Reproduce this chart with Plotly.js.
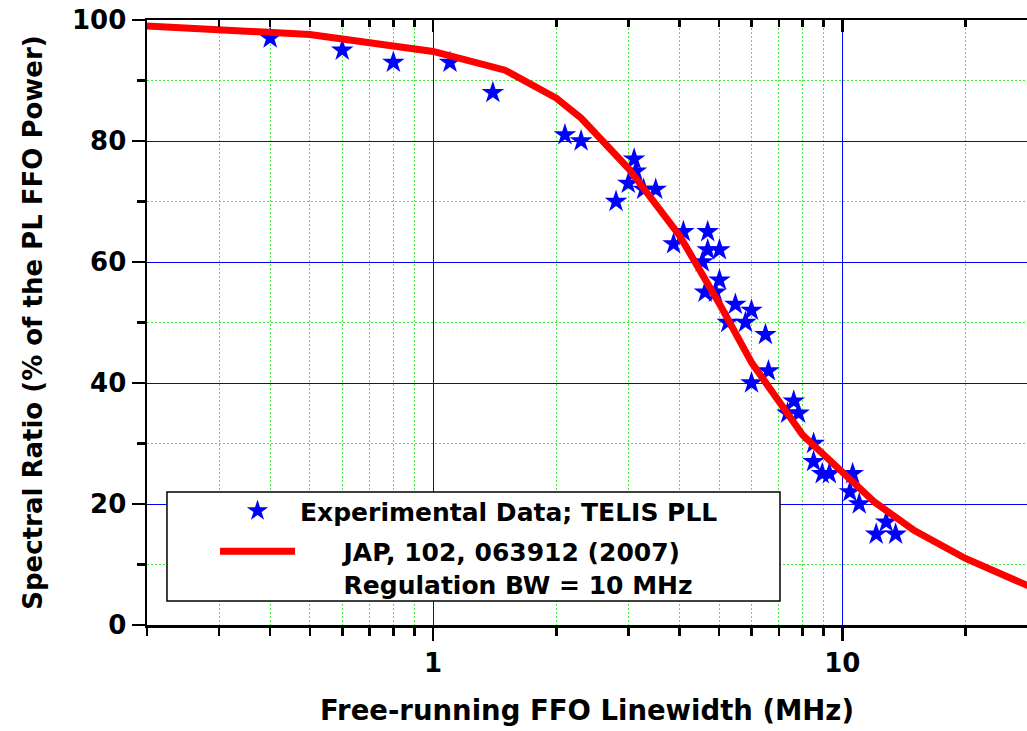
<!DOCTYPE html>
<html><head><meta charset="utf-8">
<script src="https://cdn.plot.ly/plotly-3.0.1.min.js"></script>
<style>html,body{margin:0;padding:0;background:#fff}#chart{width:1027px;height:731px}</style>
</head><body><div id="chart"></div>
<script>
// Experimental data: free-running FFO linewidth (MHz) vs spectral ratio (%)
const expX = [0.4, 0.6, 0.8, 1.1, 1.4, 2.1, 2.3, 2.8, 3.0, 3.1, 3.13, 3.27, 3.5,
  3.87, 4.09, 4.69, 4.69, 5.01, 4.55, 5.01, 4.62, 4.9, 5.48, 6.0, 5.25, 5.8, 6.49,
  6.6, 6.0, 7.61, 7.35, 7.82, 8.51, 8.51, 8.93, 9.3, 10.6, 10.44, 11.0, 12.8, 12.1, 13.5];
const expY = [97, 95, 93, 93, 88, 81, 80, 70, 73, 77, 75, 72, 72,
  63, 65, 65, 62, 62, 60, 57, 55, 55, 53, 52, 50, 50, 48,
  42, 40, 37, 35, 35, 30, 27, 25, 25, 25, 22, 20, 17, 15, 15];
// Model curve: JAP, 102, 063912 (2007), regulation BW = 10 MHz
const modelX = [0.2, 0.5, 1, 1.5, 2, 2.3, 3, 4, 5, 6, 8, 10, 12, 15, 20, 30];
const modelY = [99.0, 97.6, 94.8, 91.7, 87.1, 83.8, 75.5, 64.4, 53.2, 43.4, 31.4, 25.2, 20.3, 15.6, 11.0, 5.8];

const majorXTicks = [1, 10];
const majorXLabels = ['1', '10'];
const minorXTicks = [0.2, 0.3, 0.4, 0.5, 0.6, 0.7, 0.8, 0.9, 2, 3, 4, 5, 6, 7, 8, 9, 20];
const xRangeVals = [0.2, 28.27];

const NB = '\u00A0';
const expName = 'Experimental Data; TELIS PLL';
const modelName = NB.repeat(5) + 'JAP, 102, 063912 (2007)<br>' + NB.repeat(5) + 'Regulation BW = 10 MHz';

const FAM = 'DejaVu Sans, Liberation Sans, Arial, sans-serif';
const tickFont = {family: FAM, size: 26, color: '#000', weight: 'bold'};
const blueGrid = '#0000ff';
const greenGrid = '#40ee40';
const xr = [Math.log10(xRangeVals[0]), Math.log10(xRangeVals[1])];

const traces = [
  {x: expX, y: expY, type: 'scatter', mode: 'markers', name: expName, legendgroup: 'exp',
   marker: {symbol: 'star', size: 17, color: '#0000ff'}},
  {x: modelX, y: modelY, type: 'scatter', mode: 'lines', name: modelName, legendgroup: 'model',
   line: {color: '#ff0000', width: 7}},
  {x: [], y: [], xaxis: 'x2', yaxis: 'y', showlegend: false, hoverinfo: 'skip', type: 'scatter'}
];

const layout = {
  width: 1027, height: 731,
  margin: {l: 147, r: 0, t: 20, b: 106},
  paper_bgcolor: '#fff', plot_bgcolor: '#fff',
  font: {family: FAM, size: 25, color: '#000', weight: 'bold'},
  showlegend: true,
  xaxis: {
    type: 'log', range: xr,
    tickmode: 'array', tickvals: majorXTicks, ticktext: majorXLabels,
    ticks: 'outside', ticklen: 13, tickwidth: 2.5, tickcolor: '#000',
    showline: true, linewidth: 2.5, linecolor: '#000',
    showgrid: true, gridcolor: blueGrid, gridwidth: 1,
    zeroline: false, tickfont: tickFont,
    minor: {tickmode: 'array', tickvals: minorXTicks, ticks: 'outside', ticklen: 8,
            tickwidth: 2.5, tickcolor: '#000', showgrid: true, gridcolor: greenGrid,
            gridwidth: 1, griddash: '2px,2px'},
    title: {text: 'Free-running FFO Linewidth (MHz)', standoff: 24,
            font: {family: FAM, size: 27.5, color: '#000', weight: 'bold'}}
  },
  xaxis2: {
    type: 'log', range: xr, overlaying: 'x', side: 'top', anchor: 'y',
    tickmode: 'array', tickvals: majorXTicks, showticklabels: false,
    ticks: 'inside', ticklen: 12, tickwidth: 2.5, tickcolor: '#000',
    showline: true, linewidth: 2.5, linecolor: '#000',
    showgrid: false, zeroline: false,
    minor: {tickmode: 'array', tickvals: minorXTicks, ticks: 'inside', ticklen: 7,
            tickwidth: 2.5, tickcolor: '#000', showgrid: false}
  },
  yaxis: {
    range: [0, 100], tickmode: 'linear', tick0: 0, dtick: 20,
    ticks: 'outside', ticklen: 13, tickwidth: 2.5, tickcolor: '#000',
    showline: true, linewidth: 2.5, linecolor: '#000',
    showgrid: true, gridcolor: blueGrid, gridwidth: 1,
    zeroline: false, tickfont: tickFont,
    minor: {dtick: 10, ticks: 'outside', ticklen: 8, tickwidth: 2.5, tickcolor: '#000',
            showgrid: true, gridcolor: greenGrid, gridwidth: 1, griddash: '2px,2px'},
    title: {text: 'Spectral Ratio (% of the PL FFO Power)', standoff: 22,
            font: {family: FAM, size: 26, color: '#000', weight: 'bold'}}
  },
  legend: {
    x: 0.0773, y: 0.2264, xanchor: 'left', yanchor: 'top',
    bgcolor: 'rgba(0,0,0,0)', borderwidth: 0,
    font: {family: FAM, size: 25, color: '#000', weight: 'bold'},
    itemwidth: 75, valign: 'top', traceorder: 'grouped', tracegroupgap: 5
  },
  shapes: [
    {type: 'rect', xref: 'paper', yref: 'paper', x0: 0.0227, x1: 0.7193, y0: 0.0397, y1: 0.2198,
     layer: 'above', fillcolor: '#fff', line: {color: '#000', width: 1.5}}
  ]
};

Plotly.newPlot('chart', traces, layout, {displayModeBar: false, staticPlot: true});
</script>
</body></html>
